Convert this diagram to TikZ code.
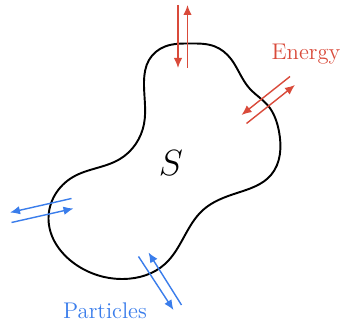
\documentclass[tikz,border=0pt]{standalone}
\usepackage{amsmath, amssymb}
\usepackage{tikz}
\usetikzlibrary{arrows.meta, calc, hobby}

\definecolor{energyred}{RGB}{217,74,58}
\definecolor{particleblue}{RGB}{58,125,235}

\tikzset{
    flux/.style={line width=0.8pt, -{Latex[length=2mm, width=1.7mm]}},
    fluxlabel/.style={font=\fontsize{12.9}{15}\selectfont},
}

\begin{document}
\begin{tikzpicture}

    \useasboundingbox (0,0) rectangle (6.84,6.48);

    % SYSTEM BOUNDARY
    \draw[line width=1.1pt] plot[closed hobby] coordinates {
        (3.80,5.61) (4.30,5.55) (4.62,5.30) (4.80,5.00) (5.00,4.70)
        (5.35,4.38) (5.58,3.85) (5.42,2.98) (4.74,2.62) (4.06,2.28)
        (3.30,1.20) (2.46,0.90) (1.50,1.20) (0.97,2.10) (1.46,2.94)
        (2.40,3.30) (2.88,4.00) (2.88,4.85) (2.98,5.28) (3.30,5.55)
    };
    \node (sys) at (3.42,3.22) {\huge $S$};

    % ENERGY EXCHANGE, TOP
    \draw[flux, energyred] (3.56,6.38) -- (3.56,5.12);
    \draw[flux, energyred] (3.75,5.12) -- (3.75,6.38);

    % ENERGY EXCHANGE, RIGHT
    \draw[flux, energyred] (5.80,4.95) -- (4.83,4.18);
    \draw[flux, energyred] (4.93,4.01) -- (5.90,4.78);
    \node[energyred, fluxlabel] (energy) at (6.12,5.40) {Energy};

    % PARTICLE EXCHANGE, LEFT
    \draw[flux, particleblue] (1.43,2.51) -- (0.20,2.23);
    \draw[flux, particleblue] (0.23,2.03) -- (1.47,2.31);

    % PARTICLE EXCHANGE, BOTTOM
    \draw[flux, particleblue] (2.77,1.35) -- (3.47,0.28);
    \draw[flux, particleblue] (3.63,0.38) -- (2.97,1.43);
    \node[particleblue, fluxlabel] (particles) at (2.10,0.26) {Particles};

\end{tikzpicture}
\end{document}
